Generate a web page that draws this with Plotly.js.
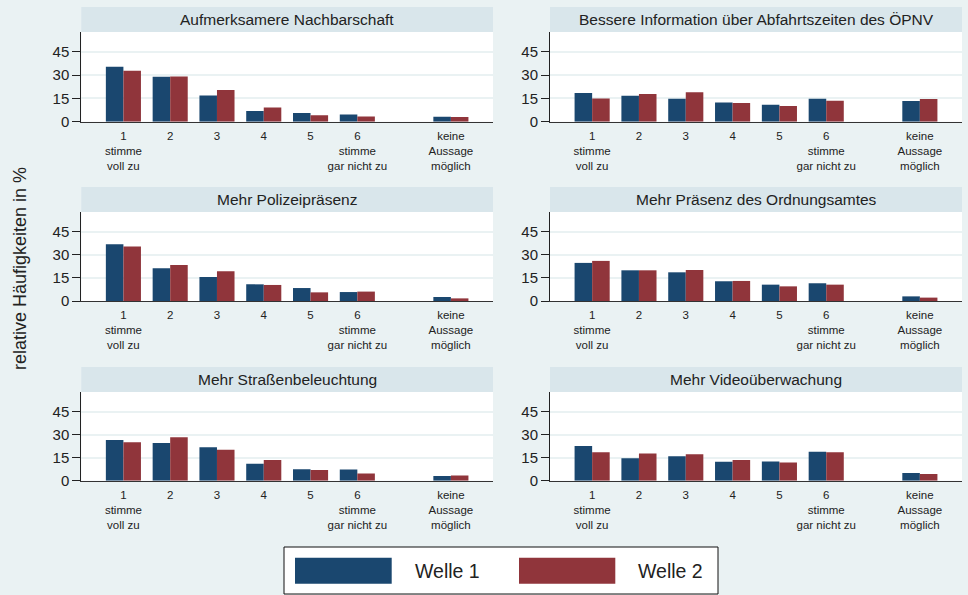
<!DOCTYPE html>
<html>
<head>
<meta charset="utf-8">
<script src="https://cdn.plot.ly/plotly-3.0.1.min.js"></script>
<style>html,body{margin:0;padding:0;background:#eaf2f3;}#chart{width:968px;height:595px;}</style>
</head>
<body>
<div id="chart"></div>
<script>
// ---- data ----
const catPos = [1, 2, 3, 4, 5, 6, 8];
const catLabels = ["1<br>stimme<br>voll zu", "2", "3", "4", "5", "6<br>stimme<br>gar nicht zu", "keine<br>Aussage<br>möglich"];
const yTicks = [0, 15, 30, 45];
const seriesNames = ["Welle 1", "Welle 2"];
const panelTitles = [
  "Aufmerksamere Nachbarschaft",
  "Bessere Information über Abfahrtszeiten des ÖPNV",
  "Mehr Polizeipräsenz",
  "Mehr Präsenz des Ordnungsamtes",
  "Mehr Straßenbeleuchtung",
  "Mehr Videoüberwachung"
];
const nachbarschaftW1 = [35.4, 28.9, 16.9, 6.9, 5.6, 4.7, 3.2];
const nachbarschaftW2 = [32.8, 29.1, 20.4, 9.2, 4.1, 3.4, 3.0];
const oepnvW1 = [18.4, 16.7, 14.8, 12.4, 10.9, 14.8, 13.3];
const oepnvW2 = [15.0, 17.8, 18.9, 12.0, 10.1, 13.5, 14.6];
const polizeiW1 = [36.8, 21.2, 15.6, 10.8, 8.4, 5.8, 2.6];
const polizeiW2 = [35.3, 23.4, 19.3, 10.4, 5.6, 6.1, 1.7];
const ordnungsamtW1 = [24.7, 19.9, 18.6, 12.8, 10.6, 11.5, 3.0];
const ordnungsamtW2 = [26.0, 19.9, 20.1, 13.0, 9.5, 10.6, 2.2];
const beleuchtungW1 = [26.5, 24.5, 21.7, 11.0, 7.5, 7.3, 3.0];
const beleuchtungW2 = [25.0, 28.2, 20.2, 13.4, 6.9, 4.7, 3.4];
const videoW1 = [22.6, 14.6, 15.9, 12.3, 12.5, 18.9, 5.0];
const videoW2 = [18.5, 17.7, 17.2, 13.4, 11.8, 18.5, 4.3];

const panelData = [
  [nachbarschaftW1, nachbarschaftW2],
  [oepnvW1, oepnvW2],
  [polizeiW1, polizeiW2],
  [ordnungsamtW1, ordnungsamtW2],
  [beleuchtungW1, beleuchtungW2],
  [videoW1, videoW2]
];

// ---- style / layout ----
const W = 968, H = 595;
const colors = ["#1a476f", "#90353b"];
const FONT = "'Liberation Sans', Arial, Helvetica, sans-serif";
const colX = [[81.3, 493], [550, 962]];          // px
const rowY = [[32, 121.7], [212, 301], [392, 480.7]]; // px (top, bottom of plot)
const stripH = 25;

const traces = [];
const layout = {
  width: W, height: H,
  margin: {l: 0, r: 0, t: 0, b: 0},
  paper_bgcolor: "#eaf2f3",
  plot_bgcolor: "#ffffff",
  barmode: "group",
  bargap: 0.25,
  bargroupgap: 0,
  showlegend: false,
  font: {family: FONT, color: "#222"},
  shapes: [],
  annotations: []
};

for (let p = 0; p < 6; p++) {
  const col = p % 2, row = Math.floor(p / 2);
  const idx = p === 0 ? "" : String(p + 1);
  const xa = "x" + idx, ya = "y" + idx;
  for (let s = 0; s < 2; s++) {
    traces.push({
      type: "bar",
      x: catPos,
      y: panelData[p][s],
      name: seriesNames[s],
      xaxis: xa, yaxis: ya,
      offsetgroup: String(s),
      marker: {color: colors[s], line: {width: 0}},
      hoverinfo: "y+name"
    });
  }
  const xd = [colX[col][0] / W, colX[col][1] / W];
  const yd = [1 - rowY[row][1] / H, 1 - rowY[row][0] / H];
  layout["xaxis" + idx] = {
    domain: xd, anchor: ya,
    range: [0.1, 8.9],
    tickmode: "array", tickvals: catPos, ticktext: catLabels,
    ticks: "", ticklabelstandoff: 3,
    tickfont: {size: 11.5, family: FONT, color: "#222"},
    showgrid: false, zeroline: false,
    showline: true, linecolor: "#333", linewidth: 1.2,
    fixedrange: true
  };
  layout["yaxis" + idx] = {
    domain: yd, anchor: xa,
    range: [0, 57.7],
    tickmode: "array", tickvals: yTicks,
    ticks: "outside", ticklen: 8, tickcolor: "#222", tickwidth: 1,
    tickfont: {size: 15, family: FONT, color: "#222"},
    showgrid: true, gridcolor: "#eaf2f3", gridwidth: 2,
    zeroline: false,
    showline: true, linecolor: "#222", linewidth: 1,
    fixedrange: true
  };
  // strip
  layout.shapes.push({
    type: "rect", xref: "paper", yref: "paper",
    x0: xd[0], x1: xd[1],
    y0: 1 - rowY[row][0] / H, y1: 1 - (rowY[row][0] - stripH) / H,
    fillcolor: "#d9e6eb", line: {width: 0}, layer: "below"
  });
  layout.annotations.push({
    xref: "paper", yref: "paper",
    x: (xd[0] + xd[1]) / 2, y: 1 - (rowY[row][0] - stripH / 2) / H,
    text: panelTitles[p], showarrow: false,
    xanchor: "center", yanchor: "middle",
    font: {size: 15.5, family: FONT, color: "#222"}
  });
}

// y-axis title
layout.annotations.push({
  xref: "paper", yref: "paper", x: 20 / W, y: 1 - 269 / H,
  text: "relative Häufigkeiten in %", textangle: -90, showarrow: false,
  xanchor: "center", yanchor: "middle",
  font: {size: 18, family: FONT, color: "#222"}
});

// legend box
layout.shapes.push({
  type: "rect", xref: "paper", yref: "paper",
  x0: 284 / W, x1: 718 / W, y0: 1 - 594 / H, y1: 1 - 547 / H,
  fillcolor: "#ffffff", line: {color: "#111", width: 1}
});
const swX = [[295, 391.7], [519, 615.3]];
const txtX = [412.7, 636];
for (let s = 0; s < 2; s++) {
  layout.shapes.push({
    type: "rect", xref: "paper", yref: "paper",
    x0: swX[s][0] / W, x1: swX[s][1] / W, y0: 1 - 583.7 / H, y1: 1 - 557.7 / H,
    fillcolor: colors[s], line: {width: 0}
  });
  layout.annotations.push({
    xref: "paper", yref: "paper", x: txtX[s] / W, y: 1 - 571 / H,
    text: seriesNames[s], showarrow: false, xanchor: "left", yanchor: "middle",
    font: {size: 19.5, family: FONT, color: "#222"}
  });
}

Plotly.newPlot("chart", traces, layout, {displayModeBar: false, staticPlot: true});
</script>
</body>
</html>
